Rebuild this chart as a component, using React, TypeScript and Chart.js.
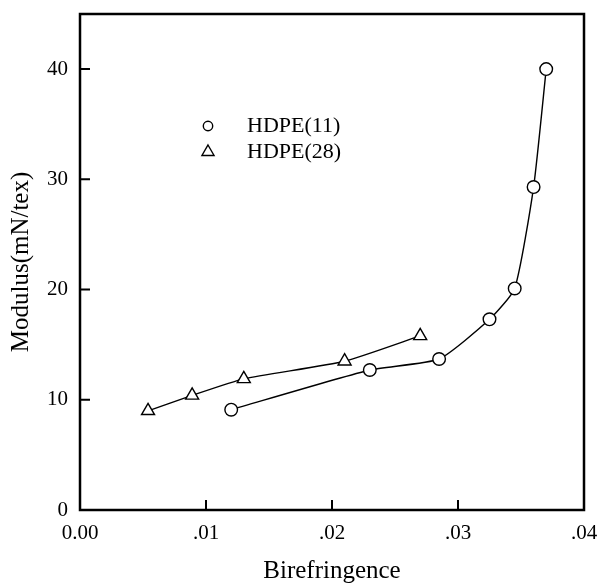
import React, { useEffect, useRef } from "react";
import { Chart, registerables } from "chart.js";

Chart.register(...registerables);

const hdpe11X = [0.0120, 0.0230, 0.0285, 0.0325, 0.0345, 0.0360, 0.0370];
const hdpe11Y = [9.1, 12.7, 13.7, 17.3, 20.1, 29.3, 40.0];
const hdpe28X = [0.0054, 0.0089, 0.0130, 0.0210, 0.0270];
const hdpe28Y = [9.0, 10.4, 11.9, 13.5, 15.8];
const xTickValues = [0, 0.01, 0.02, 0.03, 0.04];
const xTickLabels = ["0.00", ".01", ".02", ".03", ".04"];
const yTickValues = [0, 10, 20, 30, 40];
const seriesLabels = ["HDPE(11)", "HDPE(28)"];

const FONT = "'Liberation Serif', 'Times New Roman', serif";

const framePlugin = {
  id: "frame",
  afterDatasetsDraw(chart: any) {
    const { ctx, chartArea: a, scales } = chart;
    ctx.save();
    ctx.strokeStyle = "#000";
    ctx.lineWidth = 2;
    // inward ticks
    ctx.beginPath();
    for (const v of yTickValues) {
      const y = scales.y.getPixelForValue(v);
      ctx.moveTo(a.left, y);
      ctx.lineTo(a.left + 10, y);
    }
    for (const v of xTickValues) {
      const x = scales.x.getPixelForValue(v);
      ctx.moveTo(x, a.bottom);
      ctx.lineTo(x, a.bottom - 10);
    }
    ctx.stroke();
    ctx.lineWidth = 2.5;
    ctx.strokeRect(a.left, a.top, a.right - a.left, a.bottom - a.top);
    // legend
    const lx = 208;
    const rows = [126, 152];
    ctx.lineWidth = 1.4;
    ctx.fillStyle = "#fff";
    ctx.beginPath();
    ctx.arc(lx, rows[0], 4.7, 0, Math.PI * 2);
    ctx.fill();
    ctx.stroke();
    const r = 7;
    ctx.beginPath();
    ctx.moveTo(lx, rows[1] - r);
    ctx.lineTo(lx + r * Math.sin((2 * Math.PI) / 3), rows[1] - r * Math.cos((2 * Math.PI) / 3));
    ctx.lineTo(lx - r * Math.sin((2 * Math.PI) / 3), rows[1] - r * Math.cos((2 * Math.PI) / 3));
    ctx.closePath();
    ctx.fill();
    ctx.stroke();
    ctx.fillStyle = "#000";
    ctx.font = `22px ${FONT}`;
    ctx.textBaseline = "middle";
    ctx.textAlign = "left";
    ctx.fillText(seriesLabels[0], 247, rows[0]);
    ctx.fillText(seriesLabels[1], 247, rows[1]);
    ctx.restore();
  },
};

function zeroPadding(s: any) {
  s.paddingTop = 0;
  s.paddingBottom = 0;
  s.paddingLeft = 0;
  s.paddingRight = 0;
}

export default function App() {
  const ref = useRef<HTMLCanvasElement | null>(null);
  useEffect(() => {
    if (!ref.current) return;
    const chart = new Chart(ref.current, {
      type: "scatter",
      data: {
        datasets: [
          {
            label: seriesLabels[0],
            data: hdpe11X.map((x, i) => ({ x, y: hdpe11Y[i] })),
            showLine: true,
            tension: 0.18,
            borderColor: "#000",
            borderWidth: 1.4,
            pointStyle: "circle",
            pointRadius: 6.3,
            pointBackgroundColor: "#fff",
            pointBorderColor: "#000",
            pointBorderWidth: 1.4,
          },
          {
            label: seriesLabels[1],
            data: hdpe28X.map((x, i) => ({ x, y: hdpe28Y[i] })),
            showLine: true,
            tension: 0.18,
            borderColor: "#000",
            borderWidth: 1.4,
            pointStyle: "triangle",
            pointRadius: 7.5,
            pointBackgroundColor: "#fff",
            pointBorderColor: "#000",
            pointBorderWidth: 1.4,
          },
        ],
      },
      options: {
        animation: false,
        responsive: false,
        layout: { autoPadding: false, padding: { left: 0, top: 14, right: 15, bottom: 0 } },
        plugins: { legend: { display: false }, tooltip: { enabled: false } },
        scales: {
          x: {
            type: "linear",
            min: 0,
            max: 0.04,
            afterFit: (s: any) => {
              s.height = 74;
              zeroPadding(s);
            },
            afterBuildTicks: (s: any) => {
              s.ticks = xTickValues.map((v) => ({ value: v }));
            },
            grid: { display: false, drawTicks: false },
            border: { display: false },
            ticks: {
              padding: 11,
              color: "#000",
              font: { family: FONT, size: 21 },
              callback: (v: any) => {
                const i = xTickValues.findIndex((t) => Math.abs(t - Number(v)) < 1e-9);
                return i >= 0 ? xTickLabels[i] : "";
              },
              maxRotation: 0,
            },
            title: {
              display: true,
              text: "Birefringence",
              color: "#000",
              font: { family: FONT, size: 25, lineHeight: 1 },
              padding: { top: 0, bottom: 0 },
            },
          },
          y: {
            type: "linear",
            min: 0,
            max: 45,
            afterFit: (s: any) => {
              s.width = 80;
              zeroPadding(s);
            },
            afterBuildTicks: (s: any) => {
              s.ticks = yTickValues.map((v) => ({ value: v }));
            },
            grid: { display: false, drawTicks: false },
            border: { display: false },
            ticks: {
              padding: 12,
              color: "#000",
              font: { family: FONT, size: 21 },
            },
            title: {
              display: true,
              text: "Modulus(mN/tex)",
              color: "#000",
              font: { family: FONT, size: 25, lineHeight: 1 },
              padding: { top: 8.5, bottom: 0 },
            },
          },
        },
      },
      plugins: [framePlugin],
    });
    return () => chart.destroy();
  }, []);
  return (
    <div style={{ position: "fixed", left: 0, top: 0, width: 599, height: 584, background: "#fff" }}>
      <canvas ref={ref} width={599} height={584} style={{ display: "block" }} />
    </div>
  );
}
